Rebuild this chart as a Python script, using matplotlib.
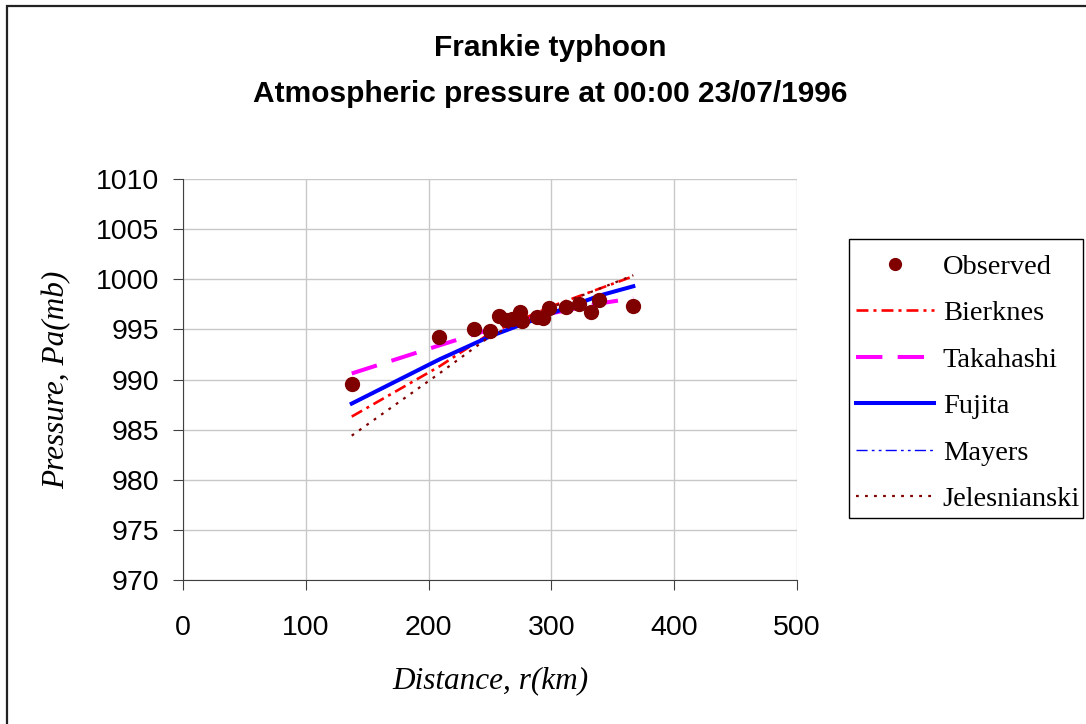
import matplotlib
matplotlib.use("Agg")
import matplotlib.pyplot as plt
from matplotlib.patches import Rectangle

plt.rcParams['lines.scale_dashes'] = False

distance = [137.4, 208.7, 237.2, 250.0, 257.6, 262.8, 267.7, 274.4, 276.3,
            288.0, 293.4, 298.0, 311.9, 322.7, 332.2, 338.5, 366.7]
observed = [989.6, 994.2, 995.0, 994.8, 996.3, 995.9, 996.0, 996.7, 995.8,
            996.2, 996.1, 997.1, 997.2, 997.5, 996.7, 997.9, 997.3]

model_r = [137.4, 208.7, 250.0, 300.0, 340.0, 366.7]
bierknes = [986.3, 991.3, 994.6, 997.3, 999.1, 1000.3]
takahashi = [990.6, 993.4, 995.0, 996.6, 997.6, 998.1]
fujita = [987.6, 992.0, 994.3, 996.6, 998.4, 999.3]
mayers = [987.5, 991.9, 994.3, 996.7, 998.5, 999.2]
jelesnianski = [984.4, 990.6, 994.3, 997.2, 999.1, 1000.4]

xticks = [0, 100, 200, 300, 400, 500]
yticks = [970, 975, 980, 985, 990, 995, 1000, 1005, 1010]

W, H = 1086, 724
fig = plt.figure(figsize=(W / 100, H / 100), dpi=100)
fig.patches.append(Rectangle((6.5 / W, -0.1), 1.2, 1 - 6.5 / H + 0.1, transform=fig.transFigure,
                             fill=False, edgecolor='#222222', linewidth=1.6))
# legend frame
fig.patches.append(Rectangle((849 / W, 1 - 518 / H), (1083 - 849) / W, (518 - 239) / H,
                             transform=fig.transFigure, fill=False, edgecolor='black',
                             linewidth=1.0, zorder=10))

ax = fig.add_axes([183 / W, 1 - 580 / H, (797 - 183) / W, (580 - 179) / H])

ax.plot(distance, observed, 'o', color='#800000', markersize=10, label='Observed', zorder=5)
ax.plot(model_r, bierknes, color='#ff0000', lw=1.9, dashes=(8.6, 3.6, 2.2, 3.6), label='Bierknes')
ax.plot(model_r, takahashi, color='#ff00ff', lw=2.9, dashes=(19, 11), label='Takahashi')
ax.plot(model_r, fujita, color='#0000ff', lw=2.9, label='Fujita')
ax.plot(model_r, mayers, color='#0000ff', lw=1.0, dashes=(8, 3, 2, 3, 2, 3), label='Mayers')
ax.plot(model_r, jelesnianski, color='#800000', lw=1.6, dashes=(2, 4.5), label='Jelesnianski')

ax.set_xlim(0, 500)
ax.set_ylim(970, 1010)
ax.set_xticks(xticks)
ax.set_yticks(yticks)
ax.grid(True, color='#c8c8c8', lw=1)
ax.set_axisbelow(True)
for s in ['top', 'right']:
    ax.spines[s].set_visible(False)
for s in ['left', 'bottom']:
    ax.spines[s].set_color('#404040')
ax.tick_params(direction='out', length=7, color='#404040', labelsize=20.5)
ax.tick_params(axis='y', pad=10)
ax.tick_params(axis='x', pad=18)
for lab in ax.get_xticklabels() + ax.get_yticklabels():
    lab.set_fontfamily('Liberation Sans')

ax.set_xlabel('Distance, r(km)', fontfamily='Liberation Serif', style='italic', fontsize=22.5, labelpad=18)
ax.set_ylabel('Pressure, Pa(mb)', fontfamily='Liberation Serif', style='italic', fontsize=22.5, labelpad=18)

fig.text(550 / W, 1 - 48 / H, 'Frankie typhoon', ha='center', va='center',
         fontfamily='Liberation Sans', fontweight='bold', fontsize=21.5)
fig.text(550 / W, 1 - 94 / H, 'Atmospheric pressure at 00:00 23/07/1996', ha='center', va='center',
         fontfamily='Liberation Sans', fontweight='bold', fontsize=21.5)

leg = fig.legend(loc='upper left', bbox_to_anchor=(856 / W, 1 - 254 / H),
                 prop={'family': 'Liberation Serif', 'size': 20.5},
                 frameon=False, borderaxespad=0, borderpad=0,
                 handlelength=2.75, labelspacing=0.72, markerscale=0.85,
                 handletextpad=0.3)

fig.savefig('out.png', dpi=100)
